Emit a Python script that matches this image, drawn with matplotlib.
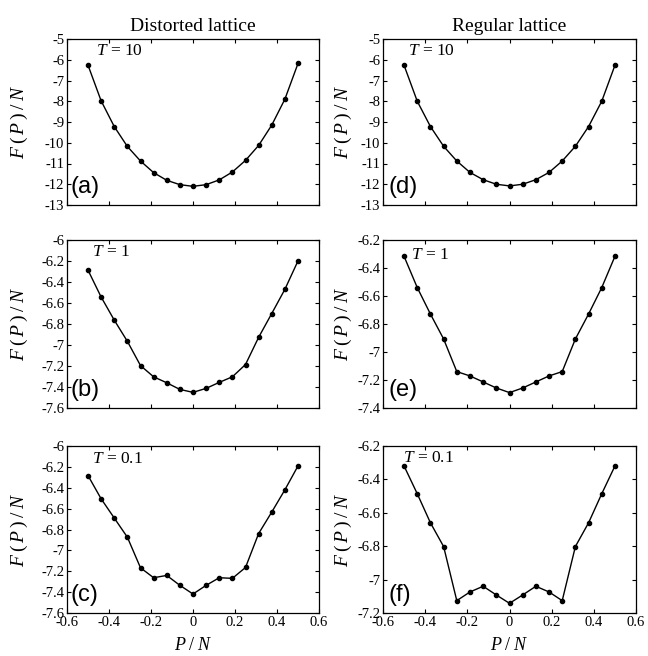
import numpy as np
import matplotlib
matplotlib.use("Agg")
import matplotlib.pyplot as plt
from matplotlib.ticker import FuncFormatter, MultipleLocator

plt.rcParams['font.family'] = ['Liberation Serif', 'DejaVu Serif']
plt.rcParams['axes.unicode_minus'] = False
plt.rcParams['mathtext.fontset'] = 'custom'
plt.rcParams['mathtext.rm'] = 'Liberation Serif'
plt.rcParams['mathtext.it'] = 'Liberation Serif:italic'

P = np.arange(-8, 9) / 16.0

F_a = [-6.26, -7.98, -9.22, -10.18, -10.88, -11.44, -11.81, -12.02, -12.10,
       -12.02, -11.79, -11.41, -10.85, -10.13, -9.15, -7.90, -6.18]
F_b = [-6.287, -6.543, -6.763, -6.965, -7.196, -7.303, -7.36, -7.423, -7.451,
       -7.413, -7.356, -7.303, -7.186, -6.927, -6.70, -6.47, -6.199]
F_c = [-6.283, -6.506, -6.690, -6.874, -7.167, -7.262, -7.240, -7.335, -7.418,
       -7.335, -7.262, -7.268, -7.164, -6.839, -6.633, -6.420, -6.191]
F_d = [-6.27, -8.0, -9.22, -10.17, -10.88, -11.43, -11.78, -12.0, -12.08,
       -12.0, -11.78, -11.43, -10.88, -10.17, -9.22, -8.0, -6.27]
F_e = [-6.317, -6.540, -6.729, -6.907, -7.140, -7.171, -7.214, -7.257, -7.290,
       -7.257, -7.214, -7.171, -7.140, -6.907, -6.729, -6.540, -6.317]
F_f = [-6.32, -6.486, -6.66, -6.802, -7.126, -7.074, -7.04, -7.092, -7.142,
       -7.092, -7.04, -7.074, -7.126, -6.802, -6.66, -6.486, -6.32]

panels = [
    (F_a, '(a)', '10', (-13, -5), 1.0),
    (F_b, '(b)', '1', (-7.6, -6.0), 0.2),
    (F_c, '(c)', '0.1', (-7.6, -6.0), 0.2),
    (F_d, '(d)', '10', (-13, -5), 1.0),
    (F_e, '(e)', '1', (-7.4, -6.2), 0.2),
    (F_f, '(f)', '0.1', (-7.2, -6.2), 0.2),
]
col_titles = ['Distorted lattice', 'Regular lattice']

W, H = 648, 656
fig = plt.figure(figsize=(W / 100, H / 100), dpi=100)

col_x = [(67, 319), (383, 636)]
row_y = [(39, 205), (240, 408), (446, 613)]
ylab_off = [-37.0, -29.0]
tpos = [[(0.115, 0.93), (0.10, 0.93), (0.10, 0.92)],
        [(0.10, 0.93), (0.11, 0.91), (0.08, 0.93)]]

fmt = FuncFormatter(lambda v, pos: ('%g' % round(v, 6)))

for i, (data, lab, tval, ylim, ystep) in enumerate(panels):
    col = i // 3
    row = i % 3
    x0, x1 = col_x[col]
    y0, y1 = row_y[row]
    ax = fig.add_axes([x0 / W, 1 - y1 / H, (x1 - x0) / W, (y1 - y0) / H])
    ax.plot(P, data, '-', color='black', lw=1.0, marker='o', ms=3.0,
            mfc='black', mec='black')
    ax.set_xlim(-0.6, 0.6)
    ax.set_ylim(*ylim)
    ax.xaxis.set_major_locator(MultipleLocator(0.2))
    ax.yaxis.set_major_locator(MultipleLocator(ystep))
    ax.yaxis.set_major_formatter(fmt)
    ax.xaxis.set_major_formatter(fmt)
    ax.tick_params(direction='in', top=True, right=True, length=3, width=0.8,
                   labelsize=10.5, pad=2)
    if row != 2:
        ax.tick_params(labelbottom=False)
    else:
        ax.set_xlabel('$P\\;/\\;N$', fontsize=13, labelpad=6)
    for s in ax.spines.values():
        s.set_linewidth(0.9)
    ax.set_ylabel('$F\\;(\\,P\\,)\\;/\\;N$', fontsize=14)
    ax.yaxis.set_label_coords(ylab_off[col] / (x1 - x0), 0.5)
    tx, ty = tpos[col][row]
    ax.text(tx, ty, '$T$ = ' + tval, transform=ax.transAxes, fontsize=12.5,
            ha='left', va='center')
    ax.text(0.012 if col == 0 else 0.02, 0.11, lab, transform=ax.transAxes,
            fontsize=17, family='Liberation Sans', ha='left', va='center')
    if row == 0:
        ax.set_title(col_titles[col], fontsize=14, pad=6)

fig.savefig('out.png', dpi=100)
